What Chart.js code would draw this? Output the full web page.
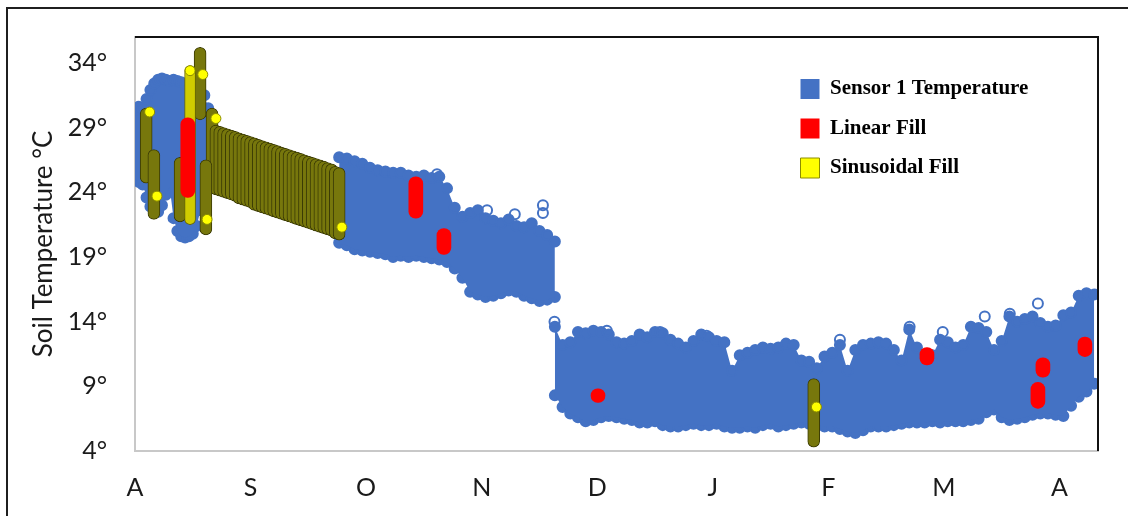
<!DOCTYPE html>
<html>
<head>
<meta charset="utf-8">
<script src="https://cdn.jsdelivr.net/npm/chart.js@4.4.1/dist/chart.umd.min.js"></script>
<style>
  html, body { margin: 0; padding: 0; background: #fff; overflow: hidden; }
  #wrap { position: relative; width: 1128px; height: 516px; overflow: hidden; }
  #frame { position: absolute; left: 6px; top: 7px; width: 1400px; height: 800px;
           border-left: 2px solid #1f1f1f; border-top: 2px solid #1f1f1f; }
  canvas { position: absolute; left: 0; top: 0; }
</style>
</head>
<body>
<div id="wrap">
  <div id="frame"></div>
  <canvas id="soil" width="1128" height="516"></canvas>
</div>
<script>
// x values are days counted from 1 August, drawn on 30-day month steps
const monthLabels = ['A', 'S', 'O', 'N', 'D', 'J', 'F', 'M', 'A'];
const monthTicks = [0, 30, 60, 90, 120, 150, 180, 210, 240];
const tempTicks = [4, 9, 14, 19, 24, 29, 34];

// Sensor 1: daily high / low of the logged readings, late summer stretch (1-day steps)
const augStart = 0, augStep = 1;
const augHigh = [30.4, 30.6, 30.5, 31.2, 31.9, 32.4, 32.7, 32.8, 32.7, 32.6,
                 32.7, 32.6, 32.5, 32.3, 32.0, 31.8, 31.9, 31.7, 31.5, 30.5];
const augLow  = [25.0, 24.8, 24.6, 23.6, 22.9, 22.6, 22.5, 23.0, 23.8, 24.4,
                 22.0, 21.0, 20.6, 20.5, 20.6, 20.8, 21.4, 22.6, 24.0, 24.5];

// autumn stretch (2-day steps)
const octStart = 53, octStep = 2;
const octHigh = [26.7, 26.6, 26.4, 26.2, 25.9, 25.7, 25.6, 25.5, 25.5, 25.3,
                 25.2, 25.3, 25.1, 25.2, 24.3, 22.8, 22.1, 22.4, 22.6, 22.0,
                 21.8, 21.6, 21.9, 21.4, 21.3, 21.6, 21.0, 20.7, 20.2];
const octLow  = [20.1, 19.9, 19.6, 19.5, 19.4, 19.3, 19.2, 19.0, 19.1, 19.0,
                 19.1, 19.0, 18.9, 18.8, 18.6, 18.1, 17.4, 16.3, 16.1, 15.9,
                 16.0, 16.2, 16.4, 16.3, 16.0, 15.8, 15.6, 15.7, 15.9];

// winter / spring stretch (2-day steps)
const winStart = 109, winStep = 2;
const winHigh = [13.6, 12.2, 12.4, 13.2, 13.1, 13.3, 13.2, 13.0, 12.4, 12.3,
                 12.5, 13.0, 12.8, 13.2, 13.1, 12.6, 12.3, 12.0, 12.5, 13.0,
                 12.8, 12.5, 12.4, 10.2, 11.4, 11.6, 11.8, 12.0, 11.9, 12.0,
                 12.3, 12.2, 11.0, 10.9, 10.4, 11.3, 11.6, 12.2, 10.2, 11.8,
                 12.2, 12.3, 12.4, 12.3, 11.8, 11.0, 13.4, 12.0, 11.3, 11.4,
                 12.6, 12.4, 12.0, 12.2, 13.6, 13.5, 13.2, 11.8, 12.5, 14.4,
                 14.0, 14.2, 14.4, 13.9, 13.6, 13.7, 14.5, 14.7, 16.0, 16.2,
                 16.1];
const winLow  = [8.3, 7.4, 6.9, 6.6, 6.3, 6.4, 6.6, 6.7, 6.6, 6.5,
                 6.4, 6.2, 6.2, 6.3, 6.0, 5.9, 5.9, 6.0, 6.1, 6.0,
                 6.0, 6.1, 5.9, 5.8, 5.8, 5.9, 5.8, 6.0, 6.1, 5.9,
                 6.0, 6.1, 6.2, 6.1, 6.0, 5.9, 5.9, 5.7, 5.5, 5.4,
                 5.6, 5.9, 5.9, 5.9, 6.0, 6.1, 6.2, 6.2, 6.2, 6.3,
                 6.2, 6.3, 6.3, 6.3, 6.4, 6.5, 7.0, 7.2, 6.6, 6.4,
                 6.5, 6.6, 6.8, 6.9, 6.9, 6.8, 6.7, 7.5, 8.2, 8.6,
                 9.2];

// isolated Sensor 1 readings standing above the daily range
const strayDays  = [78.4, 91.4, 98.6, 105.9, 105.9, 108.9, 122.5, 136.3, 148.4,
                    183.0, 201.1, 209.7, 220.6, 227.1, 234.4];
const strayTemps = [25.4, 22.6, 22.3, 23.0, 22.4, 14.0, 13.3, 13.2, 12.9,
                    12.6, 13.6, 13.2, 14.4, 14.6, 15.4];

// gaps closed by linear fill: day, lowest and highest filled value
const linDays = [13.7, 72.9, 80.2, 120.2, 205.6, 234.4, 235.7, 246.6];
const linLow  = [23.6, 22.0, 19.2, 7.75, 10.65, 7.3, 9.7, 11.3];
const linHigh = [29.75, 25.2, 21.2, 8.8, 12.0, 9.3, 11.2, 12.8];

// gaps closed by sinusoidal fill: single-day runs
const sinDays = [2.9, 4.9, 11.7, 16.9, 18.4, 176.2];
const sinLow  = [24.7, 21.9, 21.7, 29.6, 20.7, 4.3];
const sinHigh = [30.5, 27.3, 26.7, 35.2, 26.5, 9.6];
const sinPaleDays = [14.3];
const sinPaleLow  = [21.5];
const sinPaleHigh = [33.8];

// the long sinusoidal run through September (1-day steps)
const bandStart = 20, bandStep = 1;
const bandHigh = [30.5, 29.2, 29.1, 29.0, 28.9, 28.8, 28.7, 28.6, 28.5, 28.4,
                  28.3, 28.2, 28.1, 28.0, 27.9, 27.8, 27.7, 27.6, 27.5, 27.4,
                  27.3, 27.2, 27.1, 27.0, 26.9, 26.8, 26.7, 26.6, 26.5, 26.4,
                  26.3, 26.2, 26.0, 25.9];
const bandLow  = [23.9, 23.8, 23.7, 23.6, 23.5, 23.4, 23.3, 23.1, 23.0, 22.9,
                  22.8, 22.6, 22.5, 22.4, 22.3, 22.2, 22.1, 22.0, 21.9, 21.8,
                  21.7, 21.6, 21.5, 21.4, 21.3, 21.2, 21.1, 21.0, 20.9, 20.8,
                  20.7, 20.6, 20.4, 20.3];

// last sinusoidal value of each run
const sinEndDays  = [3.8, 5.7, 14.3, 17.6, 18.7, 21.0, 53.7, 176.9];
const sinEndTemps = [30.2, 23.7, 33.4, 33.1, 21.9, 29.7, 21.3, 7.4];

const BLUE = '#4472C4';
const INK = '#1a1a1a';

function seq(start, step, values) {
  return values.map((v, i) => ({ x: start + i * step, y: v }));
}
function pairs(days, temps) {
  return days.map((d, i) => ({ x: d, y: temps[i] }));
}
function runs(days, lows, highs) {
  return days.map((d, i) => ({ x: d, y: [lows[i], highs[i]] }));
}

// daily range of Sensor 1: the high line is filled down to the low line
function envelope(start, step, highs, lows, inLegend) {
  const common = {
    type: 'line', label: 'Sensor 1 Temperature',
    backgroundColor: BLUE, borderColor: BLUE, borderWidth: 0,
    pointRadius: 5, pointBorderWidth: 2,
    pointBackgroundColor: BLUE, pointBorderColor: BLUE, order: 10
  };
  return [
    Object.assign({}, common, { inLegend: inLegend, data: seq(start, step, highs), fill: '+1' }),
    Object.assign({}, common, { inLegend: false, data: seq(start, step, lows), fill: false })
  ];
}

function columnBars(label, data, fill, edge, thickness, order) {
  return {
    type: 'bar', label: label, data: data,
    backgroundColor: fill, borderColor: edge, borderWidth: 1,
    barThickness: thickness, borderRadius: thickness / 2,
    borderSkipped: false, grouped: false, order: order
  };
}

const datasets = [
  ...envelope(augStart, augStep, augHigh, augLow, true),
  ...envelope(octStart, octStep, octHigh, octLow, false),
  ...envelope(winStart, winStep, winHigh, winLow, false),
  {
    type: 'scatter', label: 'Sensor 1 Temperature', data: pairs(strayDays, strayTemps),
    pointRadius: 5, borderWidth: 2, borderColor: BLUE,
    backgroundColor: 'rgba(255,255,255,0)', order: 9
  },
  {
    type: 'bar', label: 'Linear Fill', inLegend: true, data: runs(linDays, linLow, linHigh),
    backgroundColor: '#FF0000', borderColor: '#FF0000', borderWidth: 0,
    barThickness: 14, borderRadius: 7, borderSkipped: false, grouped: false, order: 2
  },
  {
    type: 'scatter', label: 'Sinusoidal Fill', inLegend: true, data: pairs(sinEndDays, sinEndTemps),
    pointRadius: 5, borderWidth: 1, borderColor: '#8c8c00', backgroundColor: '#FFFF00', order: 3
  },
  columnBars('Sinusoidal Fill', runs(sinPaleDays, sinPaleLow, sinPaleHigh), '#d0cc00', '#6a6a00', 11, 4),
  columnBars('Sinusoidal Fill', runs(sinDays, sinLow, sinHigh), '#77770c', '#3b3b05', 12, 5),
  columnBars('Sinusoidal Fill', runs(seq(bandStart, bandStep, bandHigh).map(p => p.x), bandLow, bandHigh),
             '#77770c', '#3b3b05', 12, 6)
];

// black top and right edges of the plot box
const plotEdges = {
  id: 'plotEdges',
  afterDatasetsDraw(chart) {
    const { ctx, chartArea: a } = chart;
    ctx.save();
    ctx.strokeStyle = '#111';
    ctx.lineWidth = 2;
    ctx.beginPath();
    ctx.moveTo(a.left, a.top);
    ctx.lineTo(a.right, a.top);
    ctx.lineTo(a.right, a.bottom);
    ctx.stroke();
    ctx.restore();
  }
};

// place the legend inside the plot, upper right
const legendInside = {
  id: 'legendInside',
  afterLayout(chart) {
    const lg = chart.legend;
    const a = chart.chartArea;
    const w = lg.width, h = lg.height;
    lg.left = a.right - 316;
    lg.top = a.top + 23;
    lg.right = lg.left + w;
    lg.bottom = lg.top + h;
  }
};

Chart.defaults.font.family = 'Lato';

new Chart(document.getElementById('soil'), {
  type: 'line',
  data: { datasets: datasets },
  plugins: [plotEdges, legendInside],
  options: {
    responsive: false,
    animation: false,
    events: [],
    layout: { padding: { left: 0, right: 30, top: 37, bottom: 0 } },
    plugins: {
      tooltip: { enabled: false },
      legend: {
        position: 'chartArea',
        align: 'start',
        labels: {
          boxWidth: 19,
          boxHeight: 20,
          padding: 18.5,
          color: '#000',
          font: { family: 'Liberation Serif', weight: 'bold', size: 21 },
          filter: (item, data) => data.datasets[item.datasetIndex].inLegend === true,
          sort: (a, b) => a.datasetIndex - b.datasetIndex
        }
      }
    },
    scales: {
      x: {
        type: 'linear', min: 0, max: 250, offset: false,
        grid: { display: false, drawTicks: false, offset: false },
        border: { display: true, color: '#c8c8c8', width: 2 },
        afterBuildTicks: s => { s.ticks = monthTicks.map(v => ({ value: v })); },
        afterFit: s => { s.height = 65; },
        ticks: {
          autoSkip: false, maxRotation: 0, padding: 22, color: INK,
          font: { size: 25 },
          callback: (v, i) => monthLabels[i]
        }
      },
      y: {
        type: 'linear', min: 4, max: 36,
        grid: { display: false, drawTicks: false },
        border: { display: true, color: '#c8c8c8', width: 2 },
        afterBuildTicks: s => { s.ticks = tempTicks.map(v => ({ value: v })); },
        afterFit: s => { s.width = 135; s.paddingTop = 0; s.paddingBottom = 0; },
        ticks: {
          padding: 28, color: INK, font: { size: 25 },
          callback: v => v + '°'
        },
        title: {
          display: true, text: 'Soil Temperature °C', color: INK,
          font: { size: 26 }, padding: { top: 28, bottom: 0 }
        }
      }
    }
  }
});
</script>
</body>
</html>
